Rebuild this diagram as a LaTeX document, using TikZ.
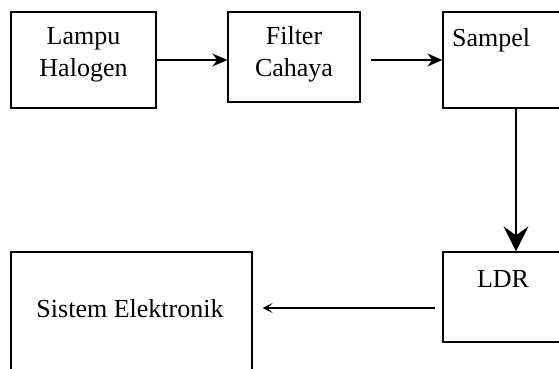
\documentclass[tikz,border=0pt]{standalone}
\usepackage{fontspec}
\setmainfont{Liberation Serif}
\usetikzlibrary{arrows.meta,positioning}
\begin{document}
\begin{tikzpicture}[x=1pt,y=1pt]
                \tikzstyle{every node}+=[inner sep=0pt, font=\fontsize{26}{32}\selectfont]
                \tikzstyle{blok}=[draw=black, line width=1.3pt]
                \tikzstyle{panah}=[line width=1.5pt, -{Stealth[length=15pt,width=13pt]}]
                \useasboundingbox (0,0) rectangle (559,-369);
                \clip (0,0) rectangle (559,-369);
                % blok
                \node [blok, minimum width=145, minimum height=96, align=center, text depth=17pt] (lampu) at (83.5,-60) {Lampu\\Halogen};
                \node [blok, minimum width=132, minimum height=90, align=center, text depth=11pt] (filter) at (294,-57) {Filter\\Cahaya};
                \node [blok, minimum width=132, minimum height=96] (sampel) at (509,-60) {};
                \node [blok, minimum width=132, minimum height=90] (ldr) at (509,-297) {};
                \node [blok, minimum width=241, minimum height=168] (sistem) at (131.5,-336) {};
                \node [anchor=base west] (tsampel) at (452,-47) {Sampel};
                \node [anchor=base] (tldr) at (503,-287) {LDR};
                \node [anchor=base] (tsistem) at (130,-317) {Sistem Elektronik};
                % panah
                \coordinate (p) at (371,-60);
                \coordinate (q) at (435,-308);
                \draw [panah] (lampu.east) -- (lampu.east -| filter.west);
                \draw [panah] (p) -- (p -| sampel.west);
                \draw [line width=1.5pt, -{Stealth[length=25pt,width=25pt,inset=9pt]}] ([xshift=7pt]sampel.south) -- ([xshift=7pt]ldr.north);
                \draw [line width=1.3pt, -{Stealth[length=10pt,width=10pt,inset=5pt]}] (q) -- ([xshift=10pt]q -| sistem.east);
\end{tikzpicture}
\end{document}
